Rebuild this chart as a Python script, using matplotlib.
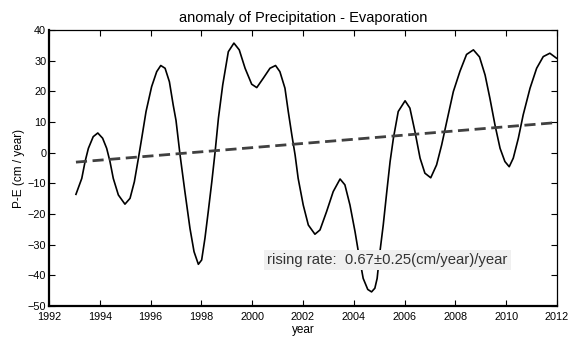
import matplotlib
matplotlib.use("Agg")
import matplotlib.pyplot as plt

plt.rcParams['font.family'] = ['Liberation Sans', 'DejaVu Sans']

# P-E anomaly curve (year, cm/year)
years = [1993.06, 1993.29, 1993.42, 1993.55, 1993.74, 1993.92, 1994.11, 1994.27,
         1994.40, 1994.53, 1994.73, 1994.99, 1995.19, 1995.36, 1995.52, 1995.65,
         1995.82, 1996.04, 1996.24, 1996.40, 1996.57, 1996.74, 1996.89, 1997.00,
         1997.16, 1997.35, 1997.55, 1997.71, 1997.88, 1998.01, 1998.14, 1998.27,
         1998.41, 1998.54, 1998.67, 1998.84, 1999.06, 1999.28, 1999.49, 1999.72,
         1999.98, 2000.18, 2000.44, 2000.70, 2000.92, 2001.09, 2001.29, 2001.42,
         2001.56, 2001.69, 2001.81, 2002.01, 2002.21, 2002.47, 2002.67, 2002.93,
         2003.19, 2003.46, 2003.65, 2003.85, 2004.05, 2004.18, 2004.37, 2004.55,
         2004.70, 2004.83, 2004.92, 2005.03, 2005.16, 2005.30, 2005.43, 2005.56,
         2005.75, 2006.02, 2006.21, 2006.41, 2006.61, 2006.80, 2007.03, 2007.26,
         2007.46, 2007.66, 2007.92, 2008.18, 2008.44, 2008.71, 2008.95, 2009.17,
         2009.36, 2009.56, 2009.76, 2009.95, 2010.12, 2010.28, 2010.48, 2010.67,
         2010.94, 2011.20, 2011.46, 2011.72, 2011.98]
pe = [-13.6, -8.4, -2.9, 1.4, 5.2, 6.4, 4.7, 1.4,
      -2.9, -8.4, -13.8, -16.8, -14.9, -9.5, -1.8, 4.7,
      13.4, 21.5, 26.4, 28.4, 27.5, 23.1, 15.5, 10.5,
      -0.8, -12.7, -24.7, -32.3, -36.4, -35.0, -27.9, -19.2,
      -9.5, 0.3, 11.2, 22.1, 32.9, 35.7, 33.5, 27.5,
      22.3, 21.2, 24.3, 27.5, 28.4, 26.4, 21.0, 13.4,
      5.8, -0.8, -8.4, -17.1, -23.6, -26.6, -25.2, -19.2,
      -12.7, -8.6, -10.5, -17.1, -25.8, -32.3, -41.0, -44.6,
      -45.4, -44.2, -41.0, -32.3, -23.6, -12.7, -2.9, 4.7,
      13.4, 16.9, 14.5, 6.8, -1.8, -6.7, -8.2, -4.0,
      2.5, 10.1, 19.9, 26.5, 32.0, 33.5, 31.2, 25.3,
      17.7, 9.0, 1.4, -2.9, -4.6, -1.8, 4.7, 12.3,
      21.0, 27.5, 31.3, 32.4, 30.8]

# linear trend end points
trend_years = [1993.06, 2012.0]
trend_vals = [-3.1, 9.8]

rate_text = "rising rate:  0.67\u00b10.25(cm/year)/year"

fig = plt.figure(figsize=(5.72, 3.40), dpi=100)
ax = fig.add_axes([0.0857, 0.100, 0.888, 0.812])

ax.plot(years, pe, color='black', lw=1.2)
ax.plot(trend_years, trend_vals, color='#404040', lw=2.0, dashes=(4, 2))

ax.set_xlim(1992, 2012)
ax.set_ylim(-50, 40)
ax.set_xticks(range(1992, 2013, 2))
ax.set_yticks(range(-50, 41, 10))
ax.tick_params(direction='in', length=4, width=0.8, labelsize=7.8,
               top=True, right=True)
ax.tick_params(axis='x', pad=4)
ax.tick_params(axis='y', pad=2)
for s in ['left', 'bottom']:
    ax.spines[s].set_linewidth(1.6)
for s in ['top', 'right']:
    ax.spines[s].set_linewidth(0.9)

ax.set_title("anomaly of Precipitation - Evaporation", fontsize=10.5, pad=6)
ax.set_xlabel("year", fontsize=8.5, labelpad=2)
ax.set_ylabel("P-E (cm / year)", fontsize=8.5, labelpad=2)

ax.text(2000.58, -35.0, rate_text, fontsize=10.7, color='#333333',
        va='center', ha='left',
        bbox=dict(facecolor='#f0f0f0', edgecolor='none', pad=2.5))

fig.savefig("out.png", dpi=100)
